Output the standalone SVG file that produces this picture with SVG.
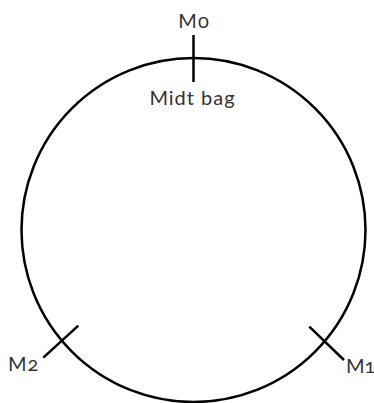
<svg xmlns="http://www.w3.org/2000/svg" width="374" height="403" viewBox="0 0 374 403">
<style>
.ln{fill:none;stroke:#000;stroke-width:2.5}
.t{font-family:Lato,"Noto Sans","Liberation Sans",sans-serif;font-size:20px;letter-spacing:1px;fill:#333;font-variant-numeric:oldstyle-nums;font-feature-settings:"onum" 1}
.t0{letter-spacing:0}
</style>
<rect width="374" height="403" fill="#fff"/>
<g id="circle"><circle class="ln" cx="193.5" cy="230" r="172"/></g>
<g id="connectors">
<line class="ln" x1="193.5" y1="35" x2="193.5" y2="82"/>
<line class="ln" x1="78.3" y1="325.7" x2="43.3" y2="357.7"/>
<line class="ln" x1="309.3" y1="326.7" x2="344" y2="360"/>
</g>
<g id="m0"><text class="t" x="194" y="28" text-anchor="middle">M0</text></g>
<g id="midt"><text class="t" x="192.5" y="105" text-anchor="middle">Midt bag</text></g>
<g id="m2"><text class="t" x="8" y="371">M2</text></g>
<g id="m1"><text class="t t0" x="346" y="373">M1</text></g>
</svg>
